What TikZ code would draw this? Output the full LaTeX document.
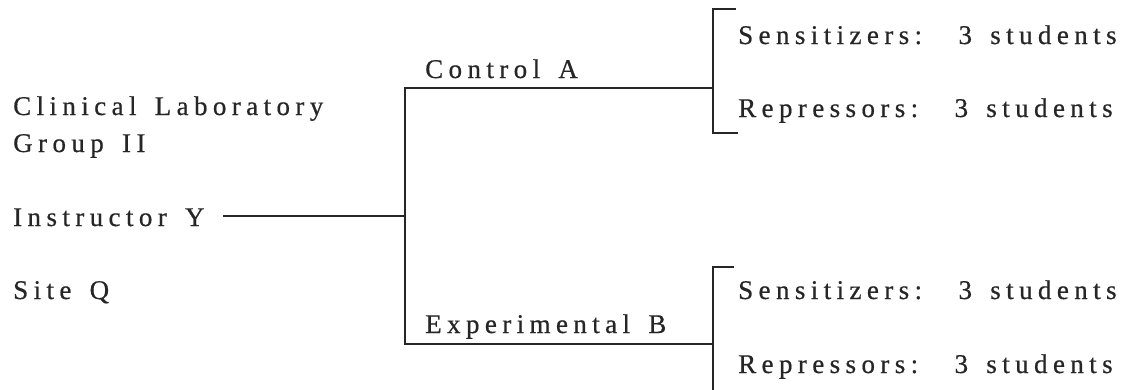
\documentclass[tikz,border=0pt]{standalone}
\usepackage{fontspec}
\setmainfont{Liberation Serif}[LetterSpace=20,WordSpace=1.5,FakeBold=0.6]
\begin{document}
\begin{tikzpicture}[x=1pt,y=-1pt,
  lbl/.style={inner sep=0pt,anchor=base west,text=black!85,
    font=\fontsize{27}{31}\selectfont},
  wire/.style={draw=black!85,line width=1.8pt,line cap=rect}]
\useasboundingbox (0,0) rectangle (1130,389);

% left-hand description of the group
\node[lbl] (lab)   at (13,115) {Clinical Laboratory};
\node[lbl] (grp)   at (13,152) {Group II};
\node[lbl] (instr) at (13,226) {Instructor Y};
\node[lbl] (site)  at (13,299) {Site Q};

% the two treatment conditions
\node[lbl] (ctrl) at (425,78)  {Control A};
\node[lbl] (expt) at (425,333) {Experimental B};

% student subgroups
\node[lbl] (sensA) at (738,44)  {Sensitizers:\ \ 3 students};
\node[lbl] (repA)  at (738,117) {Repressors:\ \ 3 students};
\node[lbl] (sensB) at (738,299) {Sensitizers:\ \ 3 students};
\node[lbl] (repB)  at (738,373) {Repressors:\ \ 3 students};

% branching points
\coordinate (split) at (405,216);
\coordinate (topA)  at (405,88);
\coordinate (topB)  at (405,344);
\coordinate (brA)   at (713,88);
\coordinate (brB)   at (713,344);

% instructor line and the split into two conditions
\draw[wire] (224,216) coordinate (lead) -- (split);
\draw[wire] (topA) -- (topB);
\draw[wire] (topA) -- (brA);
\draw[wire] (topB) -- (brB);

% brackets holding the subgroups
\draw[wire] (735,9) -- (713,9) -- (713,133) -- (737,133);
\draw[wire] (733,267) -- (713,267) -- (713,392);
\end{tikzpicture}
\end{document}
